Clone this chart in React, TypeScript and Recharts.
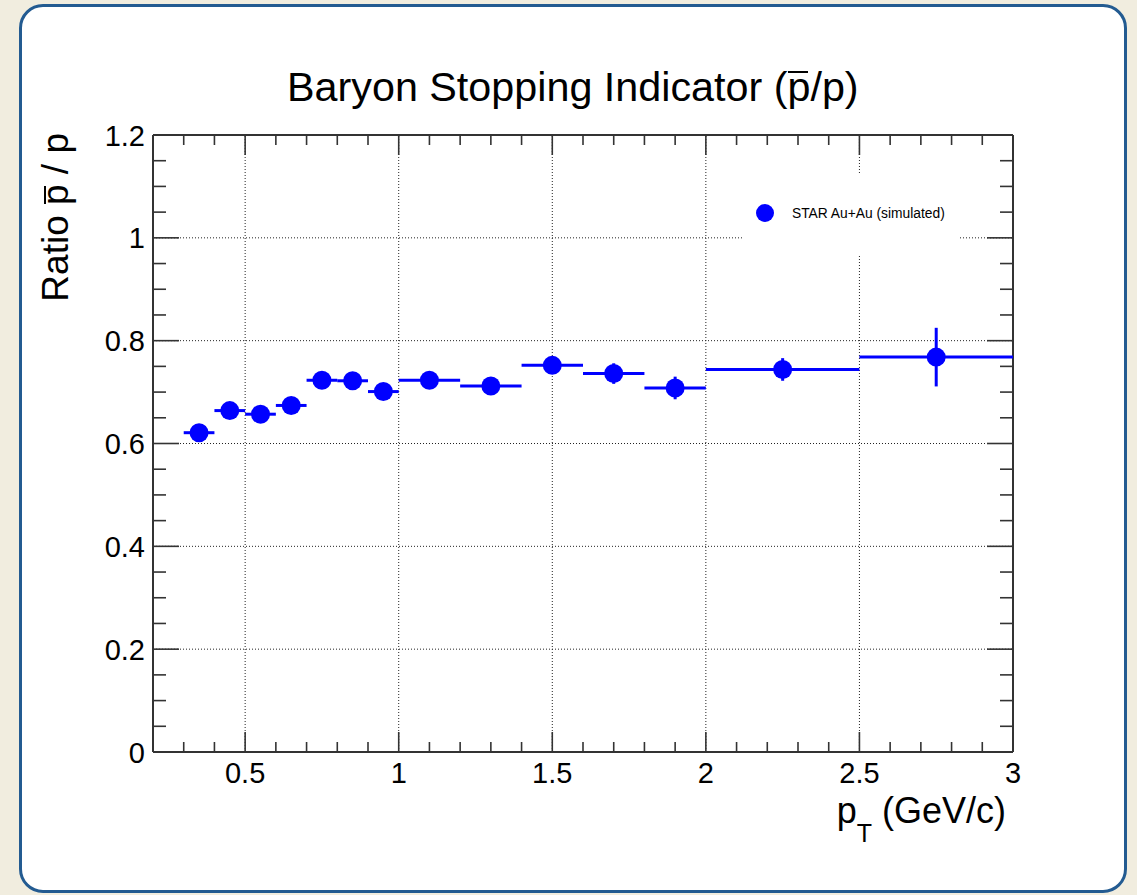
import { ErrorBar, ReferenceLine, Scatter, ScatterChart, XAxis, YAxis } from "recharts";

// pT bin centres, half-widths and the pbar/p ratio with its uncertainty
const ptCenters = [0.35, 0.45, 0.55, 0.65, 0.75, 0.85, 0.95, 1.1, 1.3, 1.5, 1.7, 1.9, 2.25, 2.75];
const ptHalfWidths = [0.05, 0.05, 0.05, 0.05, 0.05, 0.05, 0.05, 0.1, 0.1, 0.1, 0.1, 0.1, 0.25, 0.25];
const ratioValues = [0.621, 0.664, 0.657, 0.674, 0.723, 0.722, 0.701, 0.723, 0.712, 0.752, 0.736, 0.708, 0.744, 0.768];
const ratioErrors = [0.012, 0.012, 0.012, 0.012, 0.013, 0.014, 0.014, 0.013, 0.014, 0.016, 0.02, 0.022, 0.022, 0.057];

const xMajorTicks = [0.5, 1, 1.5, 2, 2.5, 3];
const xMinorTicks = [0.3, 0.4, 0.6, 0.7, 0.8, 0.9, 1.1, 1.2, 1.3, 1.4, 1.6, 1.7, 1.8, 1.9, 2.1, 2.2, 2.3, 2.4, 2.6, 2.7, 2.8, 2.9];
const yMajorTicks = [0, 0.2, 0.4, 0.6, 0.8, 1, 1.2];
const yMinorTicks = [0.05, 0.1, 0.15, 0.25, 0.3, 0.35, 0.45, 0.5, 0.55, 0.65, 0.7, 0.75, 0.85, 0.9, 0.95, 1.05, 1.1, 1.15];
const xGrid = [0.5, 1, 1.5, 2, 2.5];
const yGrid = [0.2, 0.4, 0.6, 0.8, 1];

const rows = ptCenters.map((x, i) => ({ x, ex: ptHalfWidths[i], y: ratioValues[i], ey: ratioErrors[i] }));

const W = 1137;
const H = 895;
const PL = 153;
const PR = 1013;
const PT = 135;
const PB = 752;
const FONT = "'Liberation Sans', Arial, Helvetica, sans-serif";
const AXIS = "#333";
const BLUE = "#0000ff";

function XTick(props: any) {
  const x = props.x;
  const v = props.payload.value;
  const major = xMajorTicks.includes(v);
  const len = major ? 20 : 10;
  return (
    <g>
      <line x1={x} x2={x} y1={PB} y2={PB - len} stroke={AXIS} strokeWidth={1.6} />
      <line x1={x} x2={x} y1={PT} y2={PT + len} stroke={AXIS} strokeWidth={1.6} />
      {major && (
        <text x={x} y={783} textAnchor="middle" fontSize={29} fontFamily={FONT} fill="#000">
          {String(v)}
        </text>
      )}
    </g>
  );
}

function YTick(props: any) {
  const y = props.y;
  const v = props.payload.value;
  const major = yMajorTicks.includes(v);
  const len = major ? 26 : 13;
  return (
    <g>
      <line x1={PL} x2={PL + len} y1={y} y2={y} stroke={AXIS} strokeWidth={1.6} />
      <line x1={PR} x2={PR - len} y1={y} y2={y} stroke={AXIS} strokeWidth={1.6} />
      {major && (
        <text x={PL - 8} y={y + 10.5} textAnchor="end" fontSize={29} fontFamily={FONT} fill="#000">
          {String(v)}
        </text>
      )}
    </g>
  );
}

const Dot = (p: any) => <circle cx={p.cx} cy={p.cy} r={9.5} fill={BLUE} />;

export default function App() {
  return (
    <div style={{ position: "absolute", left: 0, top: 0, width: W, height: H, background: "#f1eddf", overflow: "hidden" }}>
      <div
        style={{
          position: "absolute",
          left: 19,
          top: 4,
          width: 1108,
          height: 889,
          boxSizing: "border-box",
          border: "3px solid #235b91",
          borderRadius: 24,
          background: "#fff",
        }}
      />
      <div style={{ position: "absolute", left: 0, top: 0 }}>
        <ScatterChart width={W} height={H} margin={{ top: PT, right: W - PR, bottom: H - PB - 40, left: PL - 60 }}>
          <XAxis
            dataKey="x"
            type="number"
            domain={[0.2, 3]}
            allowDataOverflow
            ticks={[...xMajorTicks, ...xMinorTicks].sort((a, b) => a - b)}
            interval={0}
            tick={<XTick />}
            tickLine={false}
            axisLine={{ stroke: AXIS, strokeWidth: 2 }}
            height={40}
          />
          <YAxis
            dataKey="y"
            type="number"
            domain={[0, 1.2]}
            allowDataOverflow
            ticks={[...yMajorTicks, ...yMinorTicks].sort((a, b) => a - b)}
            interval={0}
            tick={<YTick />}
            tickLine={false}
            axisLine={{ stroke: AXIS, strokeWidth: 2 }}
            width={60}
          />
          {xGrid.map((v) => (
            <ReferenceLine key={"gx" + v} x={v} stroke="#222" strokeWidth={1} strokeDasharray="1 2" />
          ))}
          {yGrid.map((v) => (
            <ReferenceLine key={"gy" + v} y={v} stroke="#222" strokeWidth={1} strokeDasharray="1 2" />
          ))}
          <ReferenceLine y={1.2} stroke={AXIS} strokeWidth={2} ifOverflow="visible" />
          <ReferenceLine x={3} stroke={AXIS} strokeWidth={2} ifOverflow="visible" />
          <Scatter data={rows} fill={BLUE} shape={<Dot />} isAnimationActive={false}>
            <ErrorBar dataKey="ex" direction="x" width={0} stroke={BLUE} strokeWidth={3} isAnimationActive={false} />
            <ErrorBar dataKey="ey" direction="y" width={0} stroke={BLUE} strokeWidth={3} isAnimationActive={false} />
          </Scatter>
        </ScatterChart>
      </div>
      <svg width={W} height={H} style={{ position: "absolute", left: 0, top: 0, pointerEvents: "none" }}>
        <text x={287} y={101} textAnchor="start" fontSize={41.3} fontFamily={FONT} fill="#000">
          Baryon Stopping Indicator (p/p)
        </text>
        {/* bar over the antiproton p */}
        <line x1={788} x2={808} y1={72} y2={72} stroke="#000" strokeWidth={2} />
        <text transform="translate(68,133) rotate(-90)" textAnchor="end" fontSize={37} fontFamily={FONT} fill="#000">
          Ratio p / p
        </text>
        <line x1={45} x2={45} y1={186} y2={204} stroke="#000" strokeWidth={2} />
        <text x={1006} y={823} textAnchor="end" fontSize={36} fontFamily={FONT} fill="#000">
          p<tspan fontSize={25} dy={19}>T</tspan>
          <tspan dy={-19}> (GeV/c)</tspan>
        </text>
      </svg>
      <div
        style={{
          position: "absolute",
          left: 742,
          top: 173,
          width: 216,
          height: 82,
          background: "#fff",
          fontFamily: FONT,
        }}
      >
        <svg width={216} height={82} style={{ position: "absolute", left: 0, top: 0 }}>
          <circle cx={23} cy={40} r={9} fill={BLUE} />
          <text x={50} y={45} fontSize={13.8} fontFamily={FONT} fill="#000">
            STAR Au+Au (simulated)
          </text>
        </svg>
      </div>
    </div>
  );
}
